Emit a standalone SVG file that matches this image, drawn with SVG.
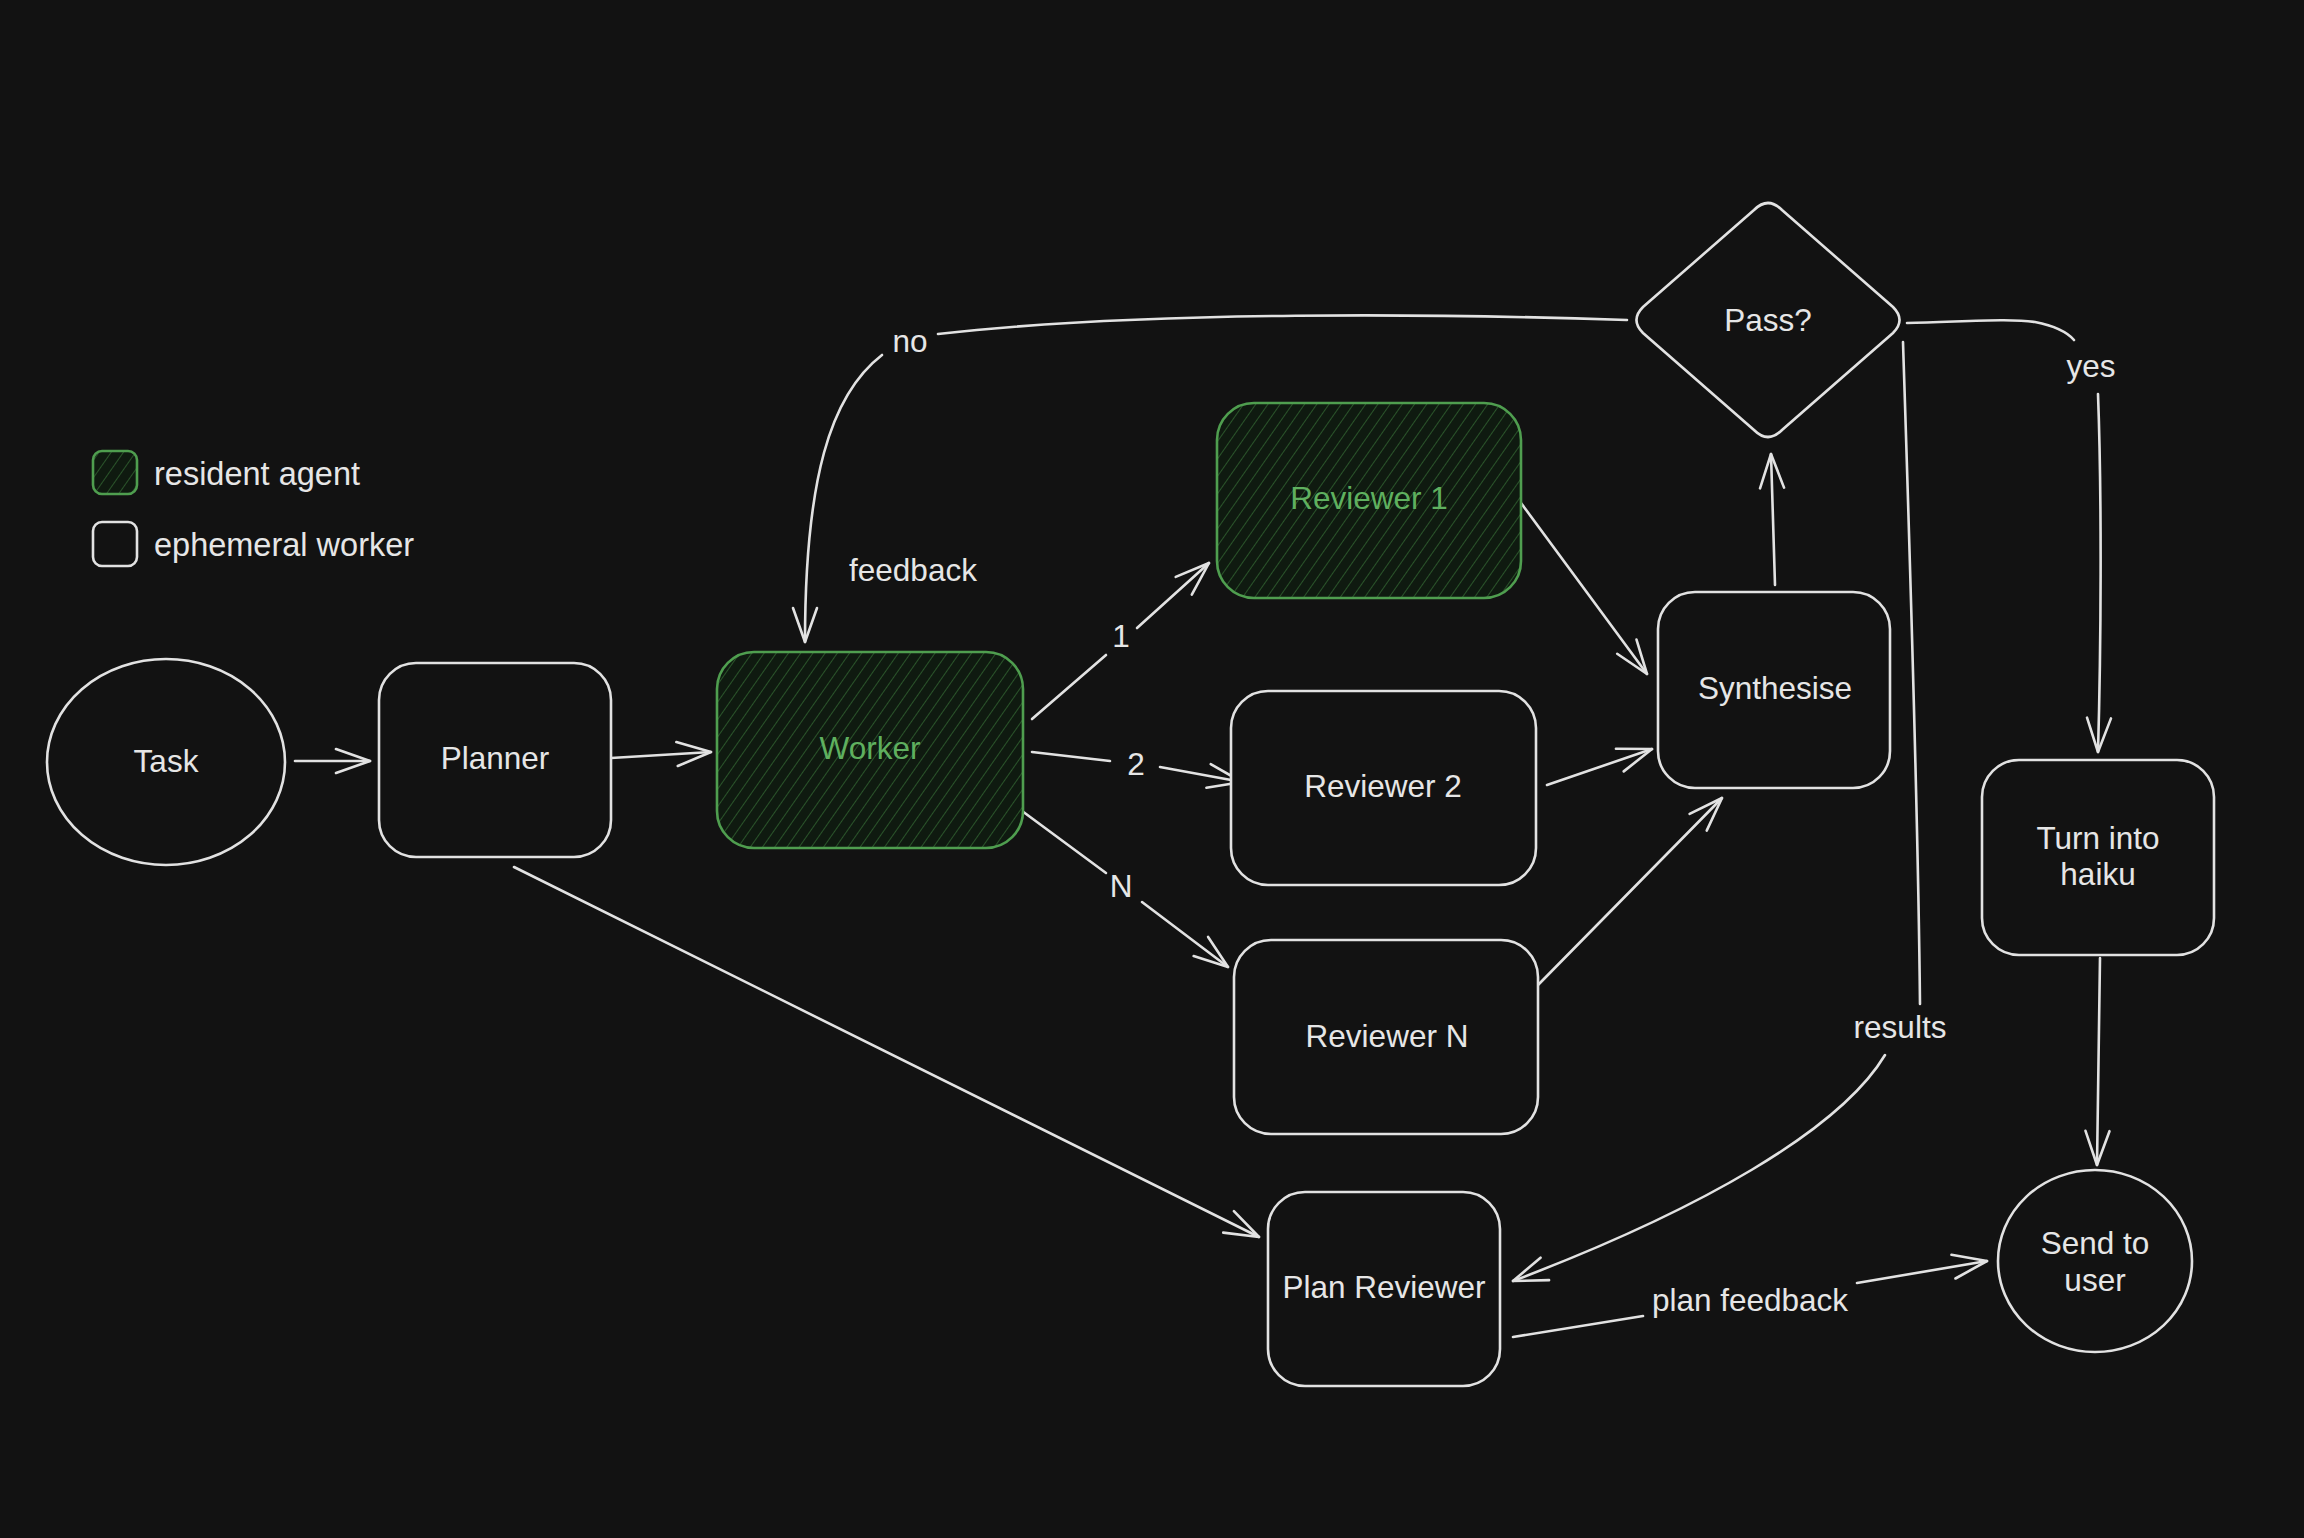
<svg xmlns="http://www.w3.org/2000/svg" width="2304" height="1538" viewBox="0 0 2304 1538">
<style>
.n{fill:#121212;stroke:#e2e2e2;stroke-width:2.6}
.g{fill:url(#hatch);stroke:#4f9e4f;stroke-width:2.6}
.t{font-family:"Liberation Sans","Noto Sans",sans-serif;font-size:31.5px;fill:#e6e6e6;text-anchor:middle;dominant-baseline:central}
.tg{fill:#5fb05f}
.lt{font-family:"Liberation Sans","Noto Sans",sans-serif;font-size:32.5px;fill:#e6e6e6;dominant-baseline:central}
.e{fill:none;stroke:#e2e2e2;stroke-width:2.6;stroke-linecap:round}
.ea{fill:none;stroke:#e2e2e2;stroke-width:2.6;stroke-linecap:round;marker-end:url(#ah)}
</style>
<defs>
<pattern id="hatch" patternUnits="userSpaceOnUse" width="10" height="10" patternTransform="rotate(35)">
<rect width="10" height="10" fill="#0f1a10"/>
<line x1="0" y1="0" x2="0" y2="10" stroke="#2e5e2e" stroke-width="1.7"/>
</pattern>
<marker id="ah" viewBox="-40 -20 50 40" markerWidth="50" markerHeight="40" refX="0" refY="0" orient="auto" markerUnits="userSpaceOnUse">
<path d="M-34,-12 L0,0 L-34,12" fill="none" stroke="#e2e2e2" stroke-width="2.6" stroke-linecap="round" stroke-linejoin="round"/>
</marker>
</defs>
<rect width="2304" height="1538" fill="#121212"/>

<g id="legend">
<rect x="93" y="451" width="44" height="43" rx="9" class="g"/>
<text x="154" y="474" class="lt">resident agent</text>
<rect x="93" y="522" width="44" height="44" rx="9" class="n"/>
<text x="154" y="545" class="lt">ephemeral worker</text>
</g>

<g id="connectors">
<path class="ea" d="M295,761 L370,761"/>
<path class="ea" d="M611,758 L711,752"/>
<path class="e" d="M1032,719 L1106,655"/>
<path class="ea" d="M1137,628 L1209,563"/>
<text x="1121" y="636" class="t">1</text>
<path class="e" d="M1032,752 L1110,761"/>
<path class="ea" d="M1160,767 L1242,782"/>
<text x="1136" y="764" class="t">2</text>
<path class="e" d="M1018,808 L1106,873"/>
<path class="ea" d="M1142,902 L1228,967"/>
<text x="1121" y="886" class="t">N</text>
<path class="ea" d="M1521,503 L1647,674"/>
<path class="ea" d="M1547,785 L1652,749"/>
<path class="ea" d="M1538,985 L1722,798"/>
<path class="ea" d="M1775,585 L1771,454"/>
<path class="e" d="M1627,320 C1450,314 1150,310 938,334"/>
<path class="ea" d="M882,355 C830,395 805,480 805,642"/>
<text x="910" y="341" class="t">no</text>
<text x="913" y="570" class="t">feedback</text>
<path class="e" d="M1907,323 C1960,322 2010,318 2035,322 C2055,326 2068,333 2074,340"/>
<path class="ea" d="M2098,394 C2102,500 2101,650 2098,752"/>
<text x="2091" y="366" class="t">yes</text>
<path class="e" d="M1903,342 C1910,560 1918,800 1920,1004"/>
<text x="1900" y="1027" class="t">results</text>
<path class="ea" d="M1885,1055 C1840,1130 1700,1210 1513,1281"/>
<path class="ea" d="M514,867 L1259,1237"/>
<path class="ea" d="M2100,958 L2097,1165"/>
<path class="e" d="M1513,1337 L1643,1316"/>
<path class="ea" d="M1857,1283 L1987,1261"/>
<text x="1750" y="1300" class="t">plan feedback</text>
</g>

<g id="task">
<ellipse cx="166" cy="762" rx="119" ry="103" class="n"/>
<text x="166" y="761" class="t">Task</text>
</g>
<g id="planner">
<rect x="379" y="663" width="232" height="194" rx="37" class="n"/>
<text x="495" y="758" class="t">Planner</text>
</g>
<g id="worker">
<rect x="717" y="652" width="306" height="196" rx="37" class="g"/>
<text x="870" y="748" class="t tg">Worker</text>
</g>
<g id="reviewer1">
<rect x="1217" y="403" width="304" height="195" rx="37" class="g"/>
<text x="1369" y="498" class="t tg">Reviewer 1</text>
</g>
<g id="reviewer2">
<rect x="1231" y="691" width="305" height="194" rx="37" class="n"/>
<text x="1383" y="786" class="t">Reviewer 2</text>
</g>
<g id="reviewerN">
<rect x="1234" y="940" width="304" height="194" rx="37" class="n"/>
<text x="1387" y="1036" class="t">Reviewer N</text>
</g>
<g id="synthesise">
<rect x="1658" y="592" width="232" height="196" rx="37" class="n"/>
<text x="1775" y="688" class="t">Synthesise</text>
</g>
<g id="pass">
<path d="M1754,210 Q1768,196 1782,210 L1893,307 Q1906,320 1893,333 L1782,430 Q1768,444 1754,430 L1643,333 Q1630,320 1643,307 Z" class="n"/>
<text x="1768" y="320" class="t">Pass?</text>
</g>
<g id="haiku">
<rect x="1982" y="760" width="232" height="195" rx="37" class="n"/>
<text x="2098" y="838" class="t">Turn into</text>
<text x="2098" y="874" class="t">haiku</text>
</g>
<g id="sendtouser">
<ellipse cx="2095" cy="1261" rx="97" ry="91" class="n"/>
<text x="2095" y="1243" class="t">Send to</text>
<text x="2095" y="1280" class="t">user</text>
</g>
<g id="planreviewer">
<rect x="1268" y="1192" width="232" height="194" rx="37" class="n"/>
<text x="1384" y="1287" class="t">Plan Reviewer</text>
</g>
</svg>
